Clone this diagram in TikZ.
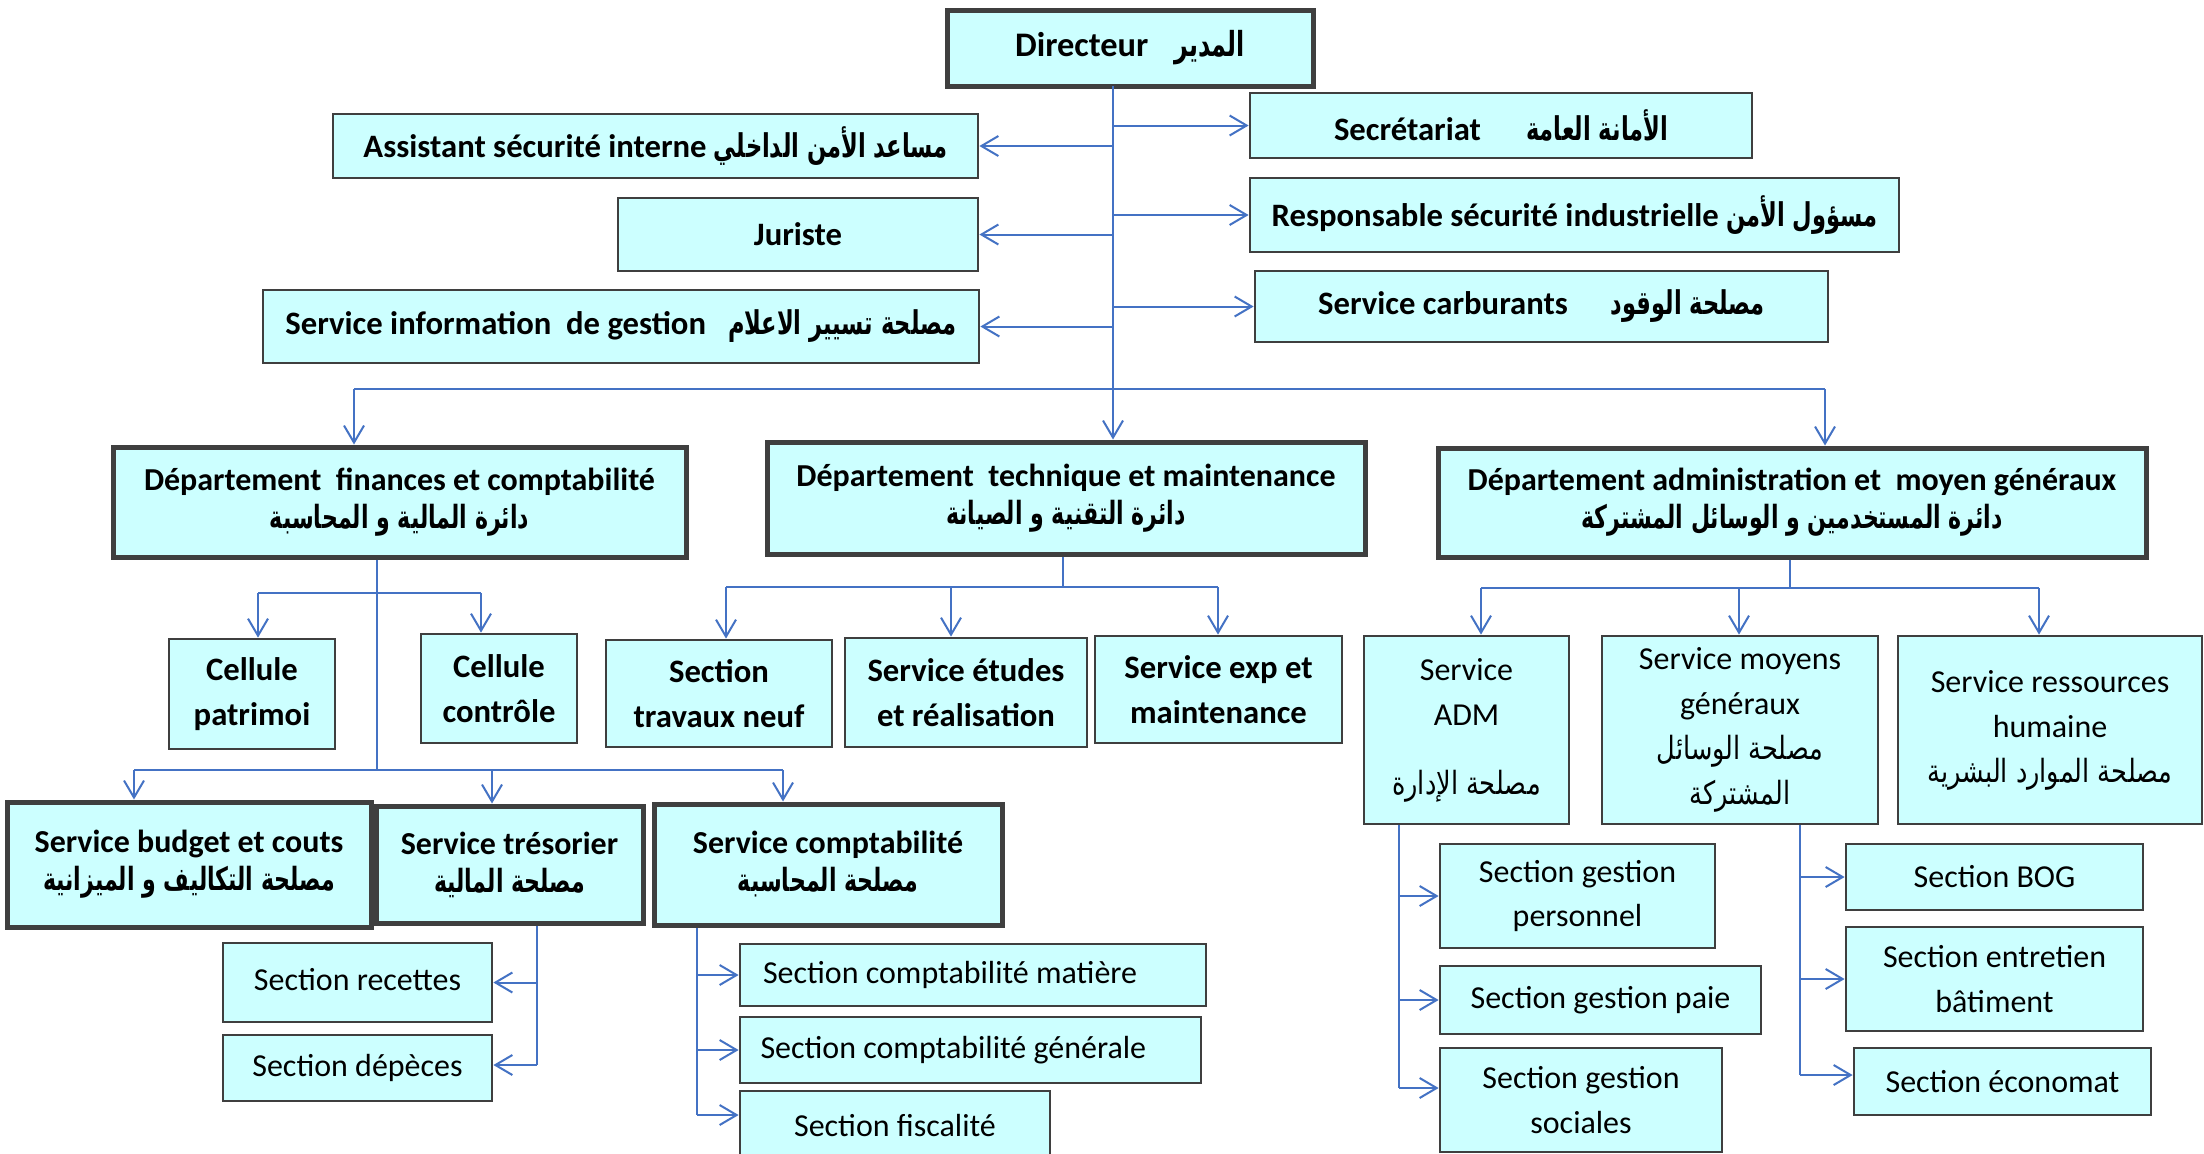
\documentclass[tikz,border=0pt]{standalone}
\usepackage{fontspec}
\setmainfont{Carlito}
\newfontfamily\arfontr[Script=Arabic,FakeStretch=0.8]{DejaVu Sans}
\newfontfamily\arfontb[Script=Arabic,Scale=1.0,FakeStretch=0.69]{DejaVu Sans Bold}
\TeXXeTstate=1
\usetikzlibrary{arrows.meta}
\definecolor{boxfill}{HTML}{CCFFFF}
\definecolor{boxline}{HTML}{3F3F3F}
\definecolor{linkblue}{HTML}{4472C4}

% Arabic text, bold and regular
\newcommand\ar[1]{{\arfontb\beginR #1\endR}}
\newcommand\arr[1]{{\arfontr\beginR #1\endR}}
% style, name, x1, y1, x2, y2, text
\newcommand\ebox[7]{%
  \node[#1, minimum width={(#5-#3)*0.1mm}, minimum height={(#6-#4)*0.1mm}]
    (#2) at ({(#3+#5)/2},{(#4+#6)/2}) {#7};}

\tikzset{
  box/.style={draw=boxline, fill=boxfill, line width=0.28mm, inner sep=0pt,
    align=center, font=\fontsize{9.1pt}{12.8pt}\selectfont},
  heavy/.style={box, line width=0.5mm},
  btxt/.style={font=\bfseries\fontsize{9.3pt}{12.8pt}\selectfont},
  dtxt/.style={font=\bfseries\fontsize{9.1pt}{10.8pt}\selectfont},
  link/.style={draw=linkblue, line width=0.2mm},
  arr/.style={link, -{Straight Barb[length=1.7mm, width=2.0mm, line width=0.2mm]}},
}

\begin{document}
\begin{tikzpicture}[x=0.1mm, y=-0.1mm]
\useasboundingbox (0,0) rectangle (2204,1153);
\fill[white] (0,0) rectangle (2204,1153);

% direction
\ebox{heavy, font=\bfseries\fontsize{9.8pt}{12pt}\selectfont}{dir}{947}{10}{1313}{86}{Directeur\hspace{2.6mm}\ar{المدير}}

% staff attached to the director
\ebox{box, btxt}{asst}{333}{114}{978}{178}{Assistant sécurité interne \ar{مساعد الأمن الداخلي}}
\ebox{box, btxt}{jur}{618}{198}{978}{271}{Juriste}
\ebox{box, btxt}{sinf}{263}{290}{979}{363}{Service information\ \ de gestion\hspace{2.2mm}\ar{مصلحة تسيير الاعلام}}
\ebox{box, btxt}{sec}{1250}{93}{1752}{158}{Secrétariat\hspace{4.5mm}\ar{الأمانة العامة}}
\ebox{box, btxt}{resp}{1250}{178}{1899}{252}{Responsable sécurité industrielle \ar{مسؤول الأمن}}
\ebox{box, btxt}{carb}{1255}{271}{1828}{342}{Service carburants\hspace{4.3mm}\ar{مصلحة الوقود}}

% departments
\ebox{heavy, dtxt}{fin}{113}{447}{686}{557}{Département\ \ finances et comptabilité\\\ar{دائرة المالية و المحاسبة}}
\ebox{heavy, dtxt}{tec}{767}{442}{1365}{554}{Département\ \ technique et maintenance\\\ar{دائرة التقنية و الصيانة}}
\ebox{heavy, dtxt}{adm}{1438}{448}{2146}{557}{Département administration et\ \ moyen généraux\\\ar{دائرة المستخدمين و الوسائل المشتركة}}

% finance branch
\ebox{box, btxt}{cpat}{169}{639}{335}{749}{Cellule\\patrimoi}
\ebox{box, btxt}{cctl}{421}{634}{577}{743}{Cellule\\contrôle}
\ebox{heavy, dtxt}{bud}{7}{802}{371}{927}{Service budget et couts\\\ar{مصلحة التكاليف و الميزانية}}
\ebox{heavy, dtxt}{tre}{376}{806}{643}{923}{Service trésorier\\\ar{مصلحة المالية}}
\ebox{heavy, dtxt}{cpt}{654}{804}{1002}{925}{Service comptabilité\\\ar{مصلحة المحاسبة}}
\ebox{box}{rec}{223}{943}{492}{1022}{\raisebox{1.8pt}{Section recettes}}
\ebox{box}{dep}{223}{1035}{492}{1101}{Section dépèces}
\ebox{box}{mat}{740}{944}{1206}{1006}{\makebox[42mm][l]{Section comptabilité matière}}
\ebox{box}{gen}{740}{1017}{1201}{1083}{\makebox[42mm][l]{Section comptabilité générale}}
\ebox{box}{fis}{740}{1091}{1050}{1160}{Section fiscalité}

% technical branch
\ebox{box, btxt}{tnf}{606}{640}{832}{747}{Section\\travaux neuf}
\ebox{box, btxt}{etu}{845}{638}{1087}{747}{Service études\\et réalisation}
\ebox{box, btxt}{exp}{1095}{636}{1342}{743}{Service exp et\\maintenance}

% administration branch
\ebox{box}{sadm}{1364}{636}{1569}{824}{Service\\ADM\\[6.8pt]\arr{مصلحة الإدارة}}
\ebox{box}{smg}{1602}{636}{1878}{824}{Service moyens\\généraux\\\arr{مصلحة الوسائل}\\\arr{المشتركة}}
\ebox{box}{srh}{1898}{636}{2202}{824}{Service ressources\\humaine\\\arr{مصلحة الموارد البشرية}}
\ebox{box}{pers}{1440}{844}{1715}{948}{Section gestion\\personnel}
\ebox{box}{paie}{1440}{966}{1761}{1034}{Section gestion paie}
\ebox{box}{soc}{1440}{1048}{1722}{1152}{Section gestion\\sociales}
\ebox{box}{bog}{1846}{844}{2143}{910}{Section BOG}
\ebox{box}{ent}{1846}{927}{2143}{1031}{Section entretien\\bâtiment}
\ebox{box}{eco}{1854}{1048}{2151}{1115}{Section économat}

% ---- connectors ----
% trunk below the director
\coordinate (t0) at (1113,86);
\coordinate (t1) at (1113,389);
\draw[link] (t0) -- (t1);
\draw[arr] (t0 |- asst.east) -- (asst.east);
\draw[arr] (t0 |- jur.east) -- (jur.east);
\draw[arr] (t0 |- sinf.east) -- (sinf.east);
\draw[arr] (t0 |- sec.west) -- (sec.west);
\draw[arr] (t0 |- resp.west) -- (resp.west);
\draw[arr] (t0 |- carb.west) -- (carb.west);

% bus to the departments
\coordinate (bl) at (354,389);
\coordinate (br) at (1825,389);
\draw[link] (bl) -- (br);
\draw[arr] (bl) -- (bl |- fin.north);
\draw[arr] (t1) -- (t1 |- tec.north);
\draw[arr] (br) -- (br |- adm.north);

% finance department
\coordinate (fa) at (258,593);
\coordinate (fb) at (481,593);
\coordinate (fy) at (377,770);
\draw[link] (fin.south -| fy) -- (fy);
\draw[link] (fa) -- (fb);
\draw[arr] (fa) -- (fa |- cpat.north);
\draw[arr] (fb) -- (fb |- cctl.north);
\coordinate (ga) at (134,770);
\coordinate (gb) at (492,770);
\coordinate (gc) at (783,770);
\draw[link] (ga) -- (gc);
\draw[arr] (ga) -- (ga |- bud.north);
\draw[arr] (gb) -- (gb |- tre.north);
\draw[arr] (gc) -- (gc |- cpt.north);

% treasury sections
\coordinate (tv) at (537,1065);
\draw[link] (tre.south -| tv) -- (tv);
\draw[arr] (tv |- rec.east) -- (rec.east);
\draw[arr] (tv) -- (tv -| dep.east);

% accounting sections
\coordinate (cv) at (697,1115);
\draw[link] (cpt.south -| cv) -- (cv);
\draw[arr] (cv |- mat.west) -- (mat.west);
\draw[arr] (cv |- gen.west) -- (gen.west);
\draw[arr] (cv) -- (cv -| fis.west);

% technical department
\coordinate (ev) at (1063,587);
\coordinate (ea) at (726,587);
\coordinate (eb) at (951,587);
\coordinate (ec) at (1218,587);
\draw[link] (tec.south -| ev) -- (ev);
\draw[link] (ea) -- (ec);
\draw[arr] (ea) -- (ea |- tnf.north);
\draw[arr] (eb) -- (eb |- etu.north);
\draw[arr] (ec) -- (ec |- exp.north);

% administration department
\coordinate (av) at (1790,588);
\coordinate (aa) at (1481,588);
\coordinate (ab) at (1739,588);
\coordinate (ac) at (2039,588);
\draw[link] (adm.south -| av) -- (av);
\draw[link] (aa) -- (ac);
\draw[arr] (aa) -- (aa |- sadm.north);
\draw[arr] (ab) -- (ab |- smg.north);
\draw[arr] (ac) -- (ac |- srh.north);

% ADM sections
\coordinate (dv) at (1399,1088);
\draw[link] (sadm.south -| dv) -- (dv);
\draw[arr] (dv |- pers.west) -- (pers.west);
\draw[arr] (dv |- paie.west) -- (paie.west);
\draw[arr] (dv) -- (dv -| soc.west);

% general means sections
\coordinate (mv) at (1800,1075);
\draw[link] (smg.south -| mv) -- (mv);
\draw[arr] (mv |- bog.west) -- (bog.west);
\draw[arr] (mv |- ent.west) -- (ent.west);
\draw[arr] (mv) -- (mv -| eco.west);
\end{tikzpicture}
\end{document}
